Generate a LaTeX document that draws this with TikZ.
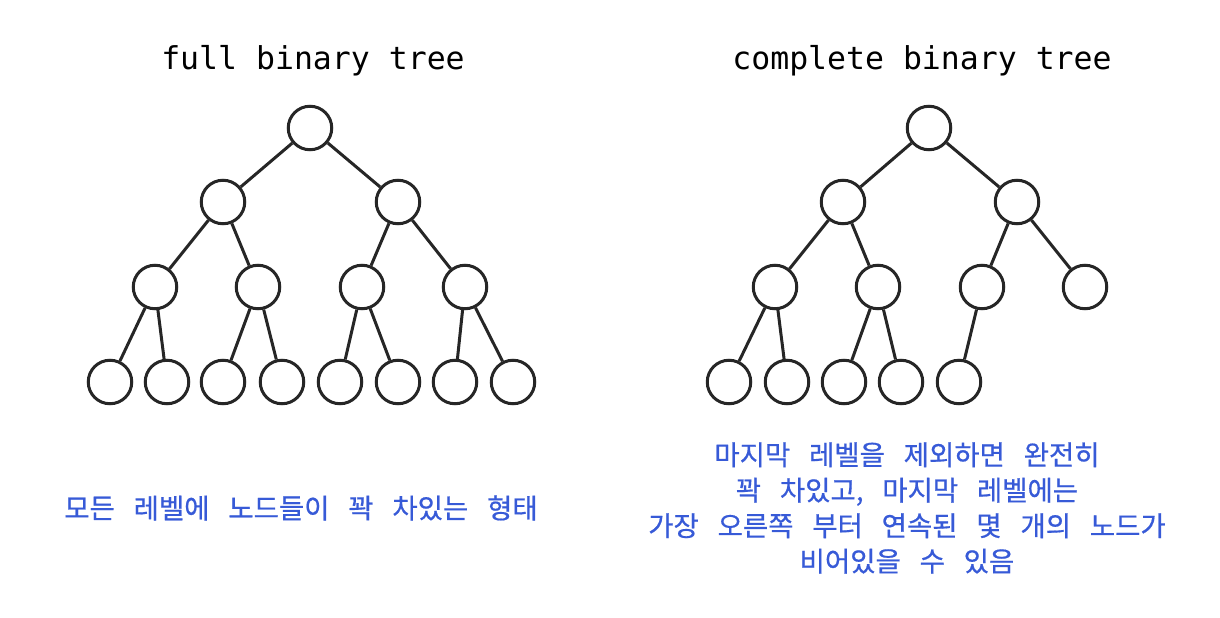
\documentclass[tikz,border=0pt]{standalone}
\usepackage{fontspec}
\newfontfamily\monofont{DejaVu Sans Mono}
\newfontfamily\krfont[WordSpace={3.05,0,0},FakeBold=0.6]{Noto Sans CJK KR}
\definecolor{noteblue}{RGB}{55,90,215}
\begin{document}
\begin{tikzpicture}[x=1pt,y=-1pt,
  tnode/.style={circle,draw=black!85,line width=3pt,minimum size=43.5pt,inner sep=0pt},
  tedge/.style={draw=black!85,line width=3pt},
  title/.style={font=\monofont\fontsize{31.5}{31.5}\selectfont,anchor=base},
  note/.style={font=\krfont\fontsize{27.5}{35.5}\selectfont,text=noteblue,align=center}]

  \useasboundingbox (0,0) rectangle (1220,618);

  % full binary tree
  \node[title] (ftitle) at (313,70) {full binary tree};
  \foreach \n/\x/\y in {1/310/128, 2/223/202, 3/398/202,
    4/155/287, 5/258/287, 6/362/287, 7/465/287,
    8/110/382, 9/167/382, 10/223/382, 11/282/382,
    12/340/382, 13/398/382, 14/455/382, 15/513/382}
    \node[tnode] (f\n) at (\x,\y) {};
  \foreach \p/\c in {1/2,1/3,2/4,2/5,3/6,3/7,
    4/8,4/9,5/10,5/11,6/12,6/13,7/14,7/15}
    \draw[tedge] (f\p) -- (f\c);
  \node[note] (fnote) at (301,508) {모든 레벨에 노드들이 꽉 차있는 형태};

  % complete binary tree
  \node[title] (ctitle) at (922,70) {complete binary tree};
  \foreach \n/\x/\y in {1/929/128, 2/843/202, 3/1017/202,
    4/775/287, 5/878/287, 6/982/287, 7/1085/287,
    8/729/382, 9/787/382, 10/844/382, 11/901/382, 12/959/382}
    \node[tnode] (c\n) at (\x,\y) {};
  \foreach \p/\c in {1/2,1/3,2/4,2/5,3/6,3/7,
    4/8,4/9,5/10,5/11,6/12}
    \draw[tedge] (c\p) -- (c\c);
  \node[note] (cnote) at (907,508) {마지막 레벨을 제외하면 완전히\\
    꽉 차있고, 마지막 레벨에는\\
    가장 오른쪽 부터 연속된 몇 개의 노드가\\
    비어있을 수 있음};
\end{tikzpicture}
\end{document}
